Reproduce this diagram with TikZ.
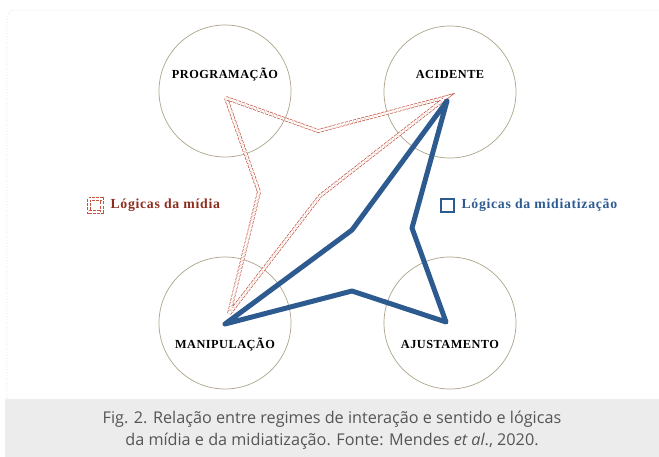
\documentclass[tikz,border=0pt]{standalone}
\usepackage{fontspec}
\setmainfont{Open Sans}
\newfontfamily\regimefont[LetterSpace=4]{Liberation Serif}
\newfontfamily\legendfont[LetterSpace=5]{Liberation Serif}

\definecolor{midia}{RGB}{196,84,64}
\definecolor{midiatext}{RGB}{142,44,30}
\definecolor{midiatiz}{RGB}{45,91,144}
\definecolor{ring}{RGB}{172,163,138}
\definecolor{captionbg}{RGB}{236,236,236}
\definecolor{captiontext}{RGB}{85,85,85}

\begin{document}
\begin{tikzpicture}[x=1pt,y=-1pt]
			\tikzstyle{regime} = [circle, draw=ring, line width=0.7pt, minimum size=132pt, inner sep=0pt]
			\tikzstyle{rotulo} = [font=\regimefont\bfseries\fontsize{12.3}{14}\selectfont, text=black]
			\tikzstyle{legenda} = [font=\legendfont\bfseries\fontsize{13.8}{15}\selectfont, anchor=west]
			\tikzstyle{midialine} = [draw=midia, line width=0.7pt, double=white, double distance=2.4pt, dash pattern=on 3pt off 1.2pt, line join=miter]
			\tikzstyle{midiatizline} = [draw=midiatiz, line width=5pt, line join=round, line cap=round]

			\useasboundingbox (0,0) rectangle (659,457);

			% moldura
			\draw [gray!25, dotted, line width=0.8pt, rounded corners=8pt] (7,398) -- (7,10) -- (659,10);
			\fill [captionbg] (5,399) rectangle (659,457);

			% regimes
			\node [regime] (prog) at (225,91) {};
			\node [rotulo] (proglabel) at (225,74) {PROGRAMAÇÃO};

			\node [regime] (acid) at (450,92) {};
			\node [rotulo] (acidlabel) at (450,74) {ACIDENTE};

			\node [regime] (manip) at (225,323) {};
			\node [rotulo] (maniplabel) at (225,344) {MANIPULAÇÃO};

			\node [regime] (ajust) at (450,323) {};
			\node [rotulo] (ajustlabel) at (450,344) {AJUSTAMENTO};

			% logicas da midia
			\coordinate (m1) at (226,98);
			\coordinate (m2) at (318,131);
			\coordinate (m3) at (447,97);
			\coordinate (m4) at (320,196);
			\coordinate (m5) at (229,314);
			\coordinate (m6) at (259,192);
			\draw [midialine] (m1) -- (m2) -- (m3) -- (m4) -- (m5) -- (m6) -- cycle;

			% logicas da midiatizacao
			\coordinate (z1) at (225,324);
			\coordinate (z2) at (352,230);
			\coordinate (z3) at (447,101);
			\coordinate (z4) at (412,228);
			\coordinate (z5) at (446,322);
			\coordinate (z6) at (352,291);
			\draw [midiatizline] (z1) -- (z2) -- (z3) -- (z4) -- (z5) -- (z6) -- cycle;

			% legendas
			\draw [midialine] (89,199) rectangle (102,212);
			\node [legenda, text=midiatext] (leg1) at (107,205.5) {Lógicas da mídia};

			\draw [draw=midiatiz, line width=2.4pt] (441,199) rectangle (454,212);
			\node [legenda, text=midiatiz] (leg2) at (458,205.5) {Lógicas da midiatização};

			% legenda da figura
			\node [align=center, text=captiontext, font=\fontsize{16.2}{22.5}\selectfont] (caption) at (332,430)
				{Fig. 2. Relação entre regimes de interação e sentido e lógicas\\da mídia e da midiatização. Fonte: Mendes \textit{et al}., 2020.};
\end{tikzpicture}
\end{document}
